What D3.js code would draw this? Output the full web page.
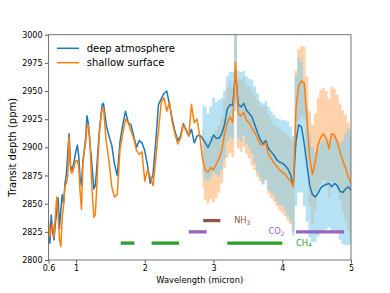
<!DOCTYPE html>
<html>
<head>
<meta charset="utf-8">
<script src="https://cdn.jsdelivr.net/npm/d3@7"></script>
<style>
body{margin:0;background:#fff;}
text{font-family:"DejaVu Sans",sans-serif;}
</style>
</head>
<body>
<div id="chart"></div>
<script>
// wavelength grid (micron)
var wave=[0.60,0.62,0.64,0.66,0.68,0.70,0.72,0.74,0.76,0.78,0.80,0.82,0.84,0.86,0.88,0.90,0.92,0.94,0.96,0.98,
  1.00,1.02,1.04,1.06,1.08,1.10,1.12,1.14,1.16,1.18,1.20,1.22,1.24,1.26,1.28,1.30,1.32,1.34,1.36,1.38,1.40,
  1.44,1.48,1.52,1.56,1.60,1.64,1.68,1.72,1.76,1.80,1.84,1.88,1.92,1.96,2.00,2.04,2.08,2.12,2.16,2.20,
  2.24,2.28,2.32,2.36,2.40,2.44,2.48,2.52,2.56,2.60,2.64,2.68,2.72,2.76,2.80,2.84,2.88,2.92,2.96,3.00,
  3.04,3.08,3.12,3.16,3.20,3.24,3.28,3.32,3.36,3.40,3.44,3.48,3.52,3.56,3.60,3.64,3.68,3.72,3.76,3.80,
  3.84,3.88,3.92,3.96,4.00,4.04,4.08,4.12,4.16,4.20,4.24,4.28,4.32,4.36,4.40,4.44,4.48,4.52,4.56,4.60,
  4.64,4.68,4.72,4.76,4.80,4.84,4.88,4.92,4.96,5.00];

// transit depth (ppm)
var deep=[2824,2815,2840,2825,2818,2832,2845,2855,2828,2845,2858,2850,2868,2876,2895,2912,2884,2880,2884,2890,
  2897,2902,2892,2872,2866,2888,2897,2908,2928,2921,2905,2893,2878,2863,2866,2880,2898,2915,2926,2938,2939,
  2920,2910,2902,2885,2875,2905,2920,2932,2922,2920,2910,2900,2906,2904,2897,2884,2868,2876,2905,2938,
  2943,2948,2950,2938,2925,2914,2906,2910,2921,2916,2910,2916,2904,2910,2911,2908,2904,2900,2905,2911,
  2908,2908,2912,2920,2934,2938,2937,2968,2938,2936,2939,2933,2930,2927,2920,2913,2907,2903,2906,2899,
  2896,2893,2889,2887,2886,2884,2881,2876,2866,2906,2920,2918,2903,2884,2866,2858,2856,2859,2864,2866,
  2867,2868,2865,2868,2866,2861,2860,2863,2865,2862];
var shallow=[2835,2821,2828,2832,2820,2840,2856,2840,2818,2812,2838,2850,2866,2868,2875,2909,2880,2877,2880,2885,
  2888,2888,2883,2860,2845,2885,2896,2904,2918,2920,2909,2880,2855,2838,2840,2862,2890,2912,2925,2934,2935,
  2905,2888,2865,2856,2858,2898,2912,2925,2922,2914,2908,2897,2894,2896,2870,2880,2874,2866,2890,2915,
  2940,2944,2932,2940,2922,2912,2903,2908,2920,2915,2910,2938,2922,2925,2910,2890,2880,2878,2882,2880,
  2885,2890,2897,2912,2922,2927,2922,2975,2930,2928,2931,2924,2922,2917,2913,2908,2903,2902,2904,2894,
  2890,2886,2883,2880,2878,2876,2873,2870,2865,2935,2955,2959,2957,2925,2890,2876,2887,2902,2909,2912,
  2908,2899,2912,2911,2905,2896,2888,2882,2874,2868];

// uncertainties, from 2.84 micron on
var bandFrom=2.84;
var deepErr=[30,32,30,31,33,32, 34,32,30,29,29,30, 36, 30,31,29,30,31,33,34,35,34,
  36,35,37,36,36,37,38,38, 40,42,42,44, 58,60,58,55,50,46,
  42,40,38,40,41,40,39,40,42,41,43,46,50,52,48];
var shallowErr=[26,27,28,28,29,30, 30,29,30,31,32,31, 34, 31,32,31,30,32,33,33,34,33,
  34,33,35,35,34,35,36,36, 37,38,38,40, 33,32,31,32,38,42,
  44,43,42,42,41,42,44,42,41,42,43,45,47,48,48];

var legendNames=["deep atmosphere","shallow surface"];
var xTicks=[0.6,1,2,3,4,5];
var yTicks=[2800,2825,2850,2875,2900,2925,2950,2975,3000];

// molecular features
var featNames=["NH","CO","CH"];
var featSubs=["3","2","4"];
var featLevel=[2835,2825,2815];
var featLabelAt=[3.3,3.8,4.2];
var featSpans=[[[2.85,3.10]],[[2.64,2.90],[4.20,4.90]],[[1.65,1.85],[2.10,2.50],[3.20,4.00]]];

var W=390,H=293;
var svg=d3.select("#chart").append("svg")
  .attr("width",W).attr("height",H);

var x=d3.scaleLinear().domain([0.6,5]).range([48.5,351]);
var y=d3.scaleLinear().domain([2800,3000]).range([260,34.7]);

svg.append("clipPath").attr("id","plotclip")
  .append("rect")
  .attr("x",x(0.6)).attr("y",y(3000))
  .attr("width",x(5)-x(0.6)).attr("height",y(2800)-y(3000));

var plot=svg.append("g").attr("clip-path","url(#plotclip)");

var deepRows=wave.map(function(w,i){return {w:w,v:deep[i]};});
var shallowRows=wave.map(function(w,i){return {w:w,v:shallow[i]};});
var bandWave=wave.filter(function(w){return w>=bandFrom-1e-9;});
var deepBand=bandWave.map(function(w,i){var k=wave.indexOf(w);return {w:w,lo:deep[k]-deepErr[i],hi:deep[k]+deepErr[i]};});
var shallowBand=bandWave.map(function(w,i){var k=wave.indexOf(w);return {w:w,lo:shallow[k]-shallowErr[i],hi:shallow[k]+shallowErr[i]};});

var band=d3.area()
  .x(function(d){return x(d.w);})
  .y0(function(d){return y(d.lo);})
  .y1(function(d){return y(d.hi);})
  .curve(d3.curveStep);

plot.append("path").datum(shallowBand)
  .attr("d",band).attr("fill","#ff7f0e").attr("fill-opacity",0.35);
plot.append("path").datum(deepBand)
  .attr("d",band).attr("fill","#87ceeb").attr("fill-opacity",0.6);

var line=d3.line()
  .x(function(d){return x(d.w);})
  .y(function(d){return y(d.v);});

plot.append("path").datum(deepRows)
  .attr("d",line).attr("fill","none")
  .attr("stroke","#1f77b4").attr("stroke-width",1.5).attr("stroke-linejoin","round");
plot.append("path").datum(shallowRows)
  .attr("d",line).attr("fill","none")
  .attr("stroke","#ff7f0e").attr("stroke-width",1.5).attr("stroke-linejoin","round");

// feature bars
var featColors=["#8c564b","#9467bd","#2ca02c"];
featSpans.forEach(function(spans,i){
  spans.forEach(function(s){
    svg.append("line")
      .attr("x1",x(s[0])).attr("x2",x(s[1]))
      .attr("y1",y(featLevel[i])).attr("y2",y(featLevel[i]))
      .attr("stroke",featColors[i]).attr("stroke-width",3.3);
  });
  var t=svg.append("text")
    .attr("x",x(featLabelAt[i])).attr("y",y(featLevel[i]))
    .attr("dy","0.3em")
    .attr("fill",featColors[i]).attr("font-size",8.3);
  t.append("tspan").text(featNames[i]);
  t.append("tspan").attr("dy","0.3em").attr("font-size",6).text(featSubs[i]);
});

// axes
var xAxis=svg.append("g").attr("transform","translate(0,260)")
  .call(d3.axisBottom(x).tickValues(xTicks).tickSize(3.5).tickPadding(2)
    .tickFormat(function(d){return d===0.6?"0.6":d3.format("d")(d);}));
var yAxis=svg.append("g").attr("transform","translate(48.5,0)")
  .call(d3.axisLeft(y).tickValues(yTicks).tickSize(3.5).tickPadding(2.5)
    .tickFormat(d3.format("d")));
[xAxis,yAxis].forEach(function(a){
  a.select(".domain").remove();
  a.selectAll("text").attr("font-size",8).attr("fill","#000")
    .style("font-family","'DejaVu Sans',sans-serif");
  a.selectAll("line").attr("stroke","#333").attr("stroke-width",0.8);
});

svg.append("rect")
  .attr("x",x(0.6)).attr("y",y(3000))
  .attr("width",x(5)-x(0.6)).attr("height",y(2800)-y(3000))
  .attr("fill","none").attr("stroke","#666").attr("stroke-width",0.9);

svg.append("text")
  .attr("x",199.75).attr("y",283)
  .attr("text-anchor","middle").attr("font-size",8.3)
  .text("Wavelength (micron)");
svg.append("text")
  .attr("transform","translate(15.5,147.3) rotate(-90)")
  .attr("text-anchor","middle").attr("font-size",10)
  .text("Transit depth (ppm)");

// legend
var legColors=["#1f77b4","#ff7f0e"];
var leg=svg.append("g");
legendNames.forEach(function(n,i){
  var ly=48.3+i*14.4;
  leg.append("line").attr("x1",57).attr("x2",79).attr("y1",ly).attr("y2",ly)
    .attr("stroke",legColors[i]).attr("stroke-width",1.5);
  leg.append("text").attr("x",86.7).attr("y",ly).attr("dy","0.32em")
    .attr("font-size",10).text(n);
});
</script>
</body>
</html>
